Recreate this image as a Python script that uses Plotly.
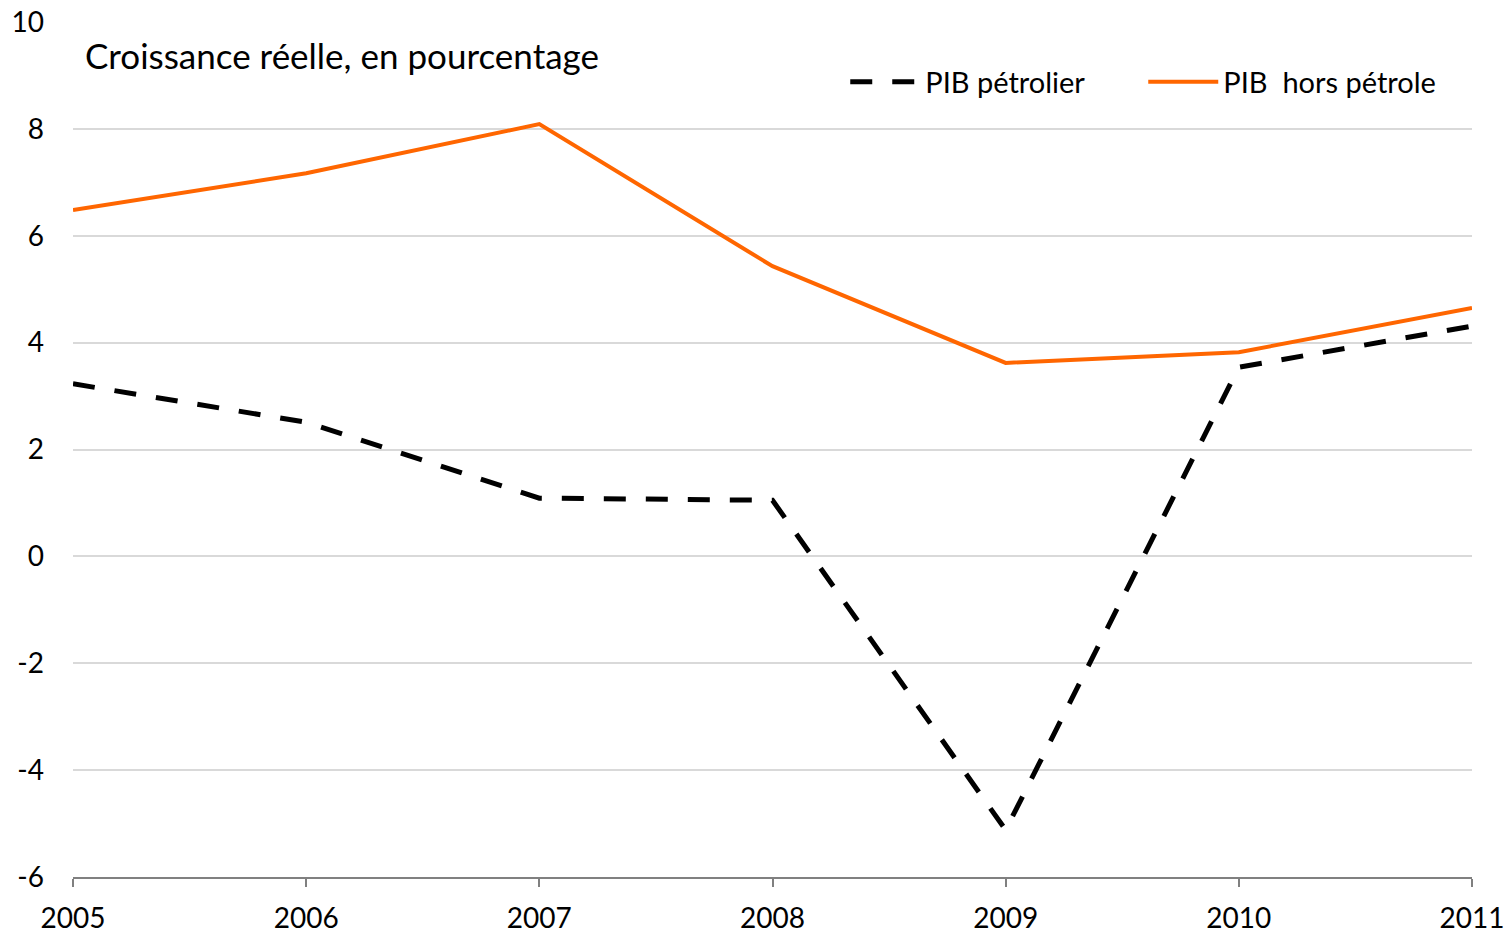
import plotly.graph_objects as go

years = [2005, 2006, 2007, 2008, 2009, 2010, 2011]
pib_petrolier = [3.23, 2.51, 1.09, 1.05, -5.12, 3.54, 4.31]
pib_hors_petrole = [6.48, 7.17, 8.09, 5.43, 3.62, 3.82, 4.65]
y_ticks = [-6, -4, -2, 0, 2, 4, 6, 8, 10]
y_tick_labels = ["-6", "-4", "-2", "0", "2", "4", "6", "8", "10"]

FONT = "Lato"

fig = go.Figure()
fig.add_trace(go.Scatter(
    x=years, y=pib_petrolier, mode="lines", name="PIB pétrolier",
    line=dict(color="#000000", width=5, dash="22px,20px"),
))
fig.add_trace(go.Scatter(
    x=years, y=pib_hors_petrole, mode="lines", name="PIB  hors pétrole",
    line=dict(color="#FF6600", width=4),
))

fig.update_layout(
    width=1506, height=933,
    margin=dict(l=73, r=34, t=22, b=56, autoexpand=False),
    paper_bgcolor="white", plot_bgcolor="white",
    font=dict(family=FONT, size=28, color="#000000"),
    showlegend=True,
    legend=dict(
        orientation="h", x=0.552, xanchor="left", y=0.93, yanchor="middle",
        font=dict(size=29, family=FONT), itemwidth=70, bgcolor="rgba(0,0,0,0)",
        entrywidth=213, entrywidthmode="pixels", traceorder="normal",
    ),
    annotations=[dict(
        text="Croissance réelle, en pourcentage", xref="paper", yref="paper",
        x=0.0072, y=0.961, xanchor="left", yanchor="middle", showarrow=False,
        font=dict(size=35, family=FONT, color="#000000"),
    )],
)
fig.update_xaxes(
    range=[2005, 2011], tickvals=years, ticktext=[str(y) for y in years],
    showgrid=False, showline=True, linecolor="#808080", linewidth=1.5,
    ticks="outside", ticklen=8, tickcolor="#808080", tickwidth=1.5,
    tickfont=dict(size=28, family=FONT), ticklabelstandoff=8, zeroline=False,
    automargin=False, ticklabeloverflow="allow",
)
fig.update_yaxes(
    range=[-6, 10], tickvals=y_ticks, ticktext=y_tick_labels,
    showgrid=True, gridcolor="#D9D9D9", gridwidth=1.5,
    zeroline=False, showline=False, ticks="", tickfont=dict(size=28, family=FONT),
    ticklabelstandoff=28, automargin=False, ticklabeloverflow="allow",
)

fig.write_html(
    "out.html",
    config={"displayModeBar": False},
    post_script="document.body.style.margin='0';document.body.style.overflow='hidden';",
)
